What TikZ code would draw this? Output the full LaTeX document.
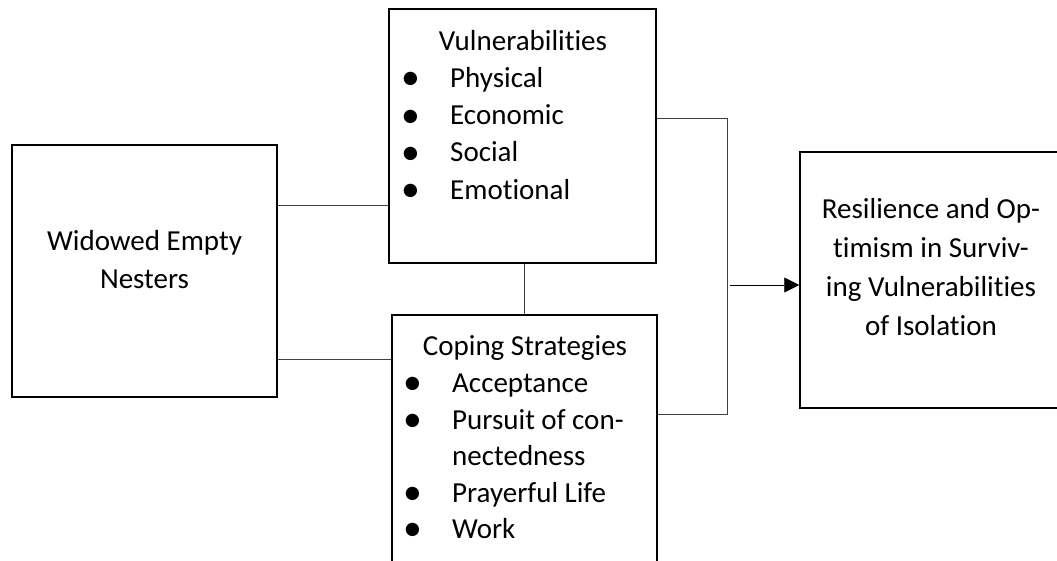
\documentclass[tikz,border=0pt]{standalone}
\usepackage{fontspec}
\setmainfont{Carlito}[Ligatures=NoCommon]
\usepackage{tikz}
\usetikzlibrary{arrows.meta, calc}
\newcommand\bul{\raisebox{-2.5pt}{\scalebox{1.3}{\textbullet}}}

\begin{document}
\begin{tikzpicture}[x=1pt, y=-1pt, >={Triangle[length=15pt,width=15pt]},
  box/.style={draw, line width=1.5pt, inner sep=0pt},
  link/.style={draw=black!75, line width=0.9pt},
  txt/.style={inner sep=0pt, anchor=base, font=\fontsize{29}{36}\selectfont}]

\useasboundingbox (0,0) rectangle (1057,560);

% boxes
\node[box, minimum width=265pt, minimum height=252pt] (nest)   at (144.5,271) {};
\node[box, minimum width=267pt, minimum height=254pt] (vuln)   at (522.5,136) {};
\node[box, minimum width=265pt, minimum height=270pt] (coping) at (524.5,450) {};
\node[box, minimum width=262pt, minimum height=256pt] (result) at (931,280) {};

% texts
\node[txt] (nest1) at (144.5,250) {Widowed Empty};
\node[txt] (nest2) at (144.5,288) {Nesters};

\node[txt] (vulntitle) at (523,50) {Vulnerabilities};
\foreach \word [count=\i] in {Physical, Economic, Social, Emotional}{
  \node[txt, anchor=base west] (vb\i) at (401,50+37.3*\i) {\bul};
  \node[txt, anchor=base west] (v\i)  at (450,50+37.3*\i) {\word};
}

\node[txt] (copetitle) at (525,355) {Coping Strategies};
\foreach \yy/\word/\b [count=\i] in {392/Acceptance/1, 429/Pursuit of con-/1,
    465/nectedness/0, 502/Prayerful Life/1, 538/Work/1}{
  \ifnum\b=1 \node[txt, anchor=base west] (cb\i) at (403,\yy) {\bul}; \fi
  \node[txt, anchor=base west] (c\i) at (452,\yy) {\word};
}

\foreach \yy/\word [count=\i] in {218/Resilience and Op-, 257/timism in Surviv-,
    296/ing Vulnerabilities, 335/of Isolation}{
  \node[txt] (r\i) at (931,\yy) {\word};
}

% connectors
\coordinate (nv) at (0,205);
\coordinate (nc) at (0,359);
\coordinate (bustop) at (727,118);
\coordinate (busbot) at (727,414);
\coordinate (tail) at (730,285);

\draw[link] (nest.east |- nv) -- (vuln.west |- nv);
\draw[link] (nest.east |- nc) -- (coping.west |- nc);
\draw[link] (vuln.south -| coping.north) -- (coping.north);
\draw[link] (vuln.east |- bustop) -- (bustop) -- (busbot) -- (coping.east |- busbot);
\draw[link, draw=black, ->] (tail) -- (result.west |- tail);

\end{tikzpicture}
\end{document}
